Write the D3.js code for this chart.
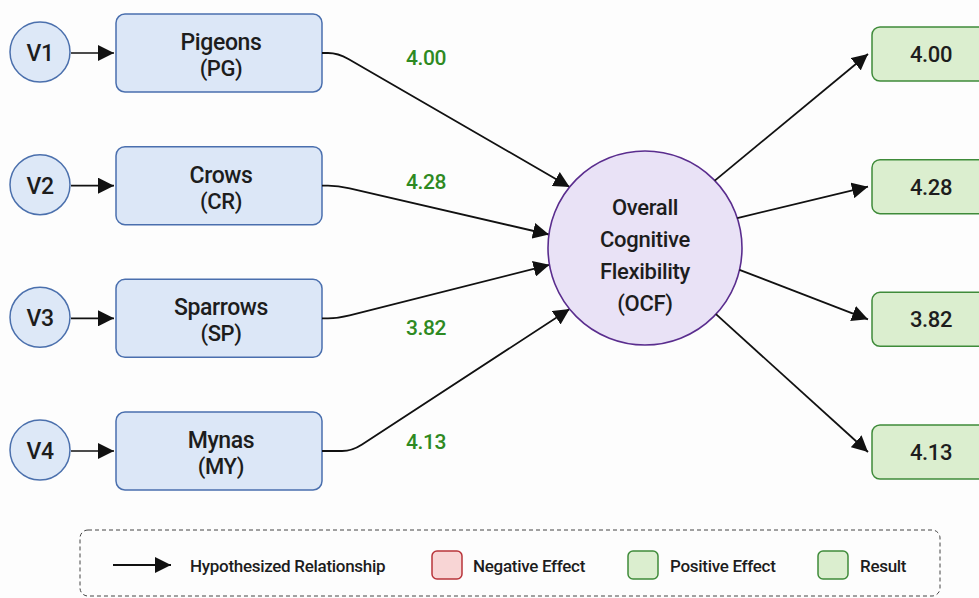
<!DOCTYPE html>
<html>
<head>
<meta charset="utf-8">
<script src="https://cdn.jsdelivr.net/npm/d3@7"></script>
<style>
  body { margin: 0; background: #fdfdfd; }
  svg { display: block; font-family: Roboto, "Open Sans", sans-serif; }
</style>
</head>
<body>
<div id="chart"></div>
<script>
// chart data
var variables = ["V1", "V2", "V3", "V4"];
var birds = ["Pigeons", "Crows", "Sparrows", "Mynas"];
var abbrs = ["PG", "CR", "SP", "MY"];
var coefficients = [4.00, 4.28, 3.82, 4.13];
var results = [4.00, 4.28, 3.82, 4.13];
var centerLines = ["Overall", "Cognitive", "Flexibility", "(OCF)"];
var legendItems = ["Hypothesized Relationship", "Negative Effect", "Positive Effect", "Result"];

var svgWidth = 979;
var svgHeight = 598;

var svg = d3.select("#chart")
    .append("svg")
    .attr("width", svgWidth)
    .attr("height", svgHeight);

// arrow marker
svg.append("defs").append("marker")
    .attr("id", "arrow")
    .attr("viewBox", "0 0 10 10")
    .attr("refX", 10)
    .attr("refY", 5)
    .attr("markerWidth", 16)
    .attr("markerHeight", 16)
    .attr("markerUnits", "userSpaceOnUse")
    .attr("orient", "auto")
    .append("path")
    .attr("d", "M0,0 L10,5 L0,10 Z")
    .attr("fill", "#111");

// row positions
var yScale = d3.scalePoint()
    .domain(variables)
    .range([53, 451]);

var ocf = { x: 645, y: 248, r: 97 };

// where input arrows hit the circle, and where output arrows leave it
var inAngles = [-141, -172, 170, 141];
var outAngles = [-44, -18, 13, 43];
var rad = d => d * Math.PI / 180;

var rows = variables.map(function (v, i) {
    return { v: v, bird: birds[i], abbr: abbrs[i], coef: coefficients[i], result: results[i], y: yScale(v), i: i };
});

// V circles
svg.selectAll(".vcirc")
    .data(rows)
    .enter()
    .append("circle")
    .attr("cx", 40)
    .attr("cy", d => d.y - 1)
    .attr("r", 30)
    .attr("fill", "#dde8f7")
    .attr("stroke", "#4b70ad")
    .attr("stroke-width", 1.5);

svg.selectAll(".vtext")
    .data(rows)
    .enter()
    .append("text")
    .attr("x", 40)
    .attr("y", d => d.y + 8)
    .attr("text-anchor", "middle")
    .attr("font-size", "23px")
    .attr("font-weight", 500)
    .attr("letter-spacing", "-0.5px")
    .attr("fill", "#1d1d1d")
    .text(d => d.v);

// short arrows V -> box
svg.selectAll(".varrow")
    .data(rows)
    .enter()
    .append("line")
    .attr("x1", 71)
    .attr("x2", 114)
    .attr("y1", d => d.y)
    .attr("y2", d => d.y)
    .attr("stroke", "#111")
    .attr("stroke-width", 1.6)
    .attr("marker-end", "url(#arrow)");

// bird boxes
svg.selectAll(".bbox")
    .data(rows)
    .enter()
    .append("rect")
    .attr("x", 116)
    .attr("y", d => d.y - 39)
    .attr("width", 206)
    .attr("height", 78)
    .attr("rx", 9)
    .attr("fill", "#dce7f7")
    .attr("stroke", "#4a6fae")
    .attr("stroke-width", 1.5);

svg.selectAll(".bname")
    .data(rows)
    .enter()
    .append("text")
    .attr("x", 221)
    .attr("y", d => d.y - 3)
    .attr("text-anchor", "middle")
    .attr("font-size", "23px")
    .attr("font-weight", 500)
    .attr("letter-spacing", "-0.4px")
    .attr("fill", "#1d1d1d")
    .text(d => d.bird);

svg.selectAll(".babbr")
    .data(rows)
    .enter()
    .append("text")
    .attr("x", 221)
    .attr("y", d => d.y + 23)
    .attr("text-anchor", "middle")
    .attr("font-size", "22px")
    .attr("font-weight", 500)
    .attr("letter-spacing", "-0.4px")
    .attr("fill", "#1d1d1d")
    .text(d => "(" + d.abbr + ")");

// box -> OCF paths with a small rounded bend
function inPath(d) {
    var a = rad(inAngles[d.i]);
    var ex = ocf.x + ocf.r * Math.cos(a), ey = ocf.y + ocf.r * Math.sin(a);
    var sx = 322, sy = d.y;
    var bx = sx + (d.i === 3 ? 30 : 16);
    var dx = ex - bx, dy = ey - sy, len = Math.sqrt(dx * dx + dy * dy);
    var p = d3.path();
    p.moveTo(sx, sy);
    p.lineTo(bx - 10, sy);
    p.quadraticCurveTo(bx, sy, bx + dx / len * 12, sy + dy / len * 12);
    p.lineTo(ex, ey);
    return p.toString();
}

svg.selectAll(".inpath")
    .data(rows)
    .enter()
    .append("path")
    .attr("d", inPath)
    .attr("fill", "none")
    .attr("stroke", "#111")
    .attr("stroke-width", 1.8)
    .attr("marker-end", "url(#arrow)");

// coefficient labels
var labelY = [57, 181, 327, 441];
svg.selectAll(".coef")
    .data(rows)
    .enter()
    .append("text")
    .attr("x", 426)
    .attr("y", d => labelY[d.i] + 8)
    .attr("text-anchor", "middle")
    .attr("font-size", "21px")
    .attr("font-weight", 500)
    .attr("letter-spacing", "-0.4px")
    .attr("fill", "#2e8a22")
    .text(d => d.coef.toFixed(2));

// OCF circle
svg.append("circle")
    .attr("cx", ocf.x)
    .attr("cy", ocf.y)
    .attr("r", ocf.r)
    .attr("fill", "#e9e2f6")
    .attr("stroke", "#5a2d8e")
    .attr("stroke-width", 1.6);

svg.selectAll(".ocftext")
    .data(centerLines)
    .enter()
    .append("text")
    .attr("x", ocf.x)
    .attr("y", (d, i) => 215 + i * 32)
    .attr("text-anchor", "middle")
    .attr("font-size", "22px")
    .attr("font-weight", 500)
    .attr("letter-spacing", "-0.3px")
    .attr("fill", "#1d1d1d")
    .text(d => d);

// OCF -> result arrows
svg.selectAll(".outline")
    .data(rows)
    .enter()
    .append("line")
    .attr("x1", d => ocf.x + ocf.r * Math.cos(rad(outAngles[d.i])))
    .attr("y1", d => ocf.y + ocf.r * Math.sin(rad(outAngles[d.i])))
    .attr("x2", 868)
    .attr("y2", d => d.y + 1)
    .attr("stroke", "#111")
    .attr("stroke-width", 1.8)
    .attr("marker-end", "url(#arrow)");

// result boxes
svg.selectAll(".rbox")
    .data(rows)
    .enter()
    .append("rect")
    .attr("x", 872)
    .attr("y", d => d.y - 26)
    .attr("width", 118)
    .attr("height", 54)
    .attr("rx", 8)
    .attr("fill", "#dbeecf")
    .attr("stroke", "#3f8b3a")
    .attr("stroke-width", 1.5);

svg.selectAll(".rtext")
    .data(rows)
    .enter()
    .append("text")
    .attr("x", 931)
    .attr("y", d => d.y + 9)
    .attr("text-anchor", "middle")
    .attr("font-size", "22px")
    .attr("font-weight", 500)
    .attr("letter-spacing", "-0.4px")
    .attr("fill", "#1d1d1d")
    .text(d => d.result.toFixed(2));

// legend
var legend = svg.append("g");

legend.append("rect")
    .attr("x", 80)
    .attr("y", 530)
    .attr("width", 860)
    .attr("height", 66)
    .attr("rx", 8)
    .attr("fill", "none")
    .attr("stroke", "#444")
    .attr("stroke-width", 1)
    .attr("stroke-dasharray", "4,3");

legend.append("line")
    .attr("x1", 113)
    .attr("x2", 171)
    .attr("y1", 565)
    .attr("y2", 565)
    .attr("stroke", "#111")
    .attr("stroke-width", 1.8)
    .attr("marker-end", "url(#arrow)");

var swatches = [
    { x: null, fill: null, stroke: null, tx: 190 },
    { x: 432, fill: "#f8d5d5", stroke: "#b8343a", tx: 473 },
    { x: 628, fill: "#dbeecf", stroke: "#3f8b3a", tx: 670 },
    { x: 818, fill: "#dbeecf", stroke: "#3f8b3a", tx: 860 }
];

legend.selectAll(".swatch")
    .data(swatches.filter(d => d.x !== null))
    .enter()
    .append("rect")
    .attr("x", d => d.x)
    .attr("y", 551)
    .attr("width", 30)
    .attr("height", 28)
    .attr("rx", 5)
    .attr("fill", d => d.fill)
    .attr("stroke", d => d.stroke)
    .attr("stroke-width", 1.5);

legend.selectAll(".ltext")
    .data(legendItems)
    .enter()
    .append("text")
    .attr("x", (d, i) => swatches[i].tx)
    .attr("y", 572)
    .attr("font-size", "17px")
    .attr("font-weight", 500)
    .attr("letter-spacing", "-0.3px")
    .attr("fill", "#1d1d1d")
    .text(d => d);
</script>
</body>
</html>
